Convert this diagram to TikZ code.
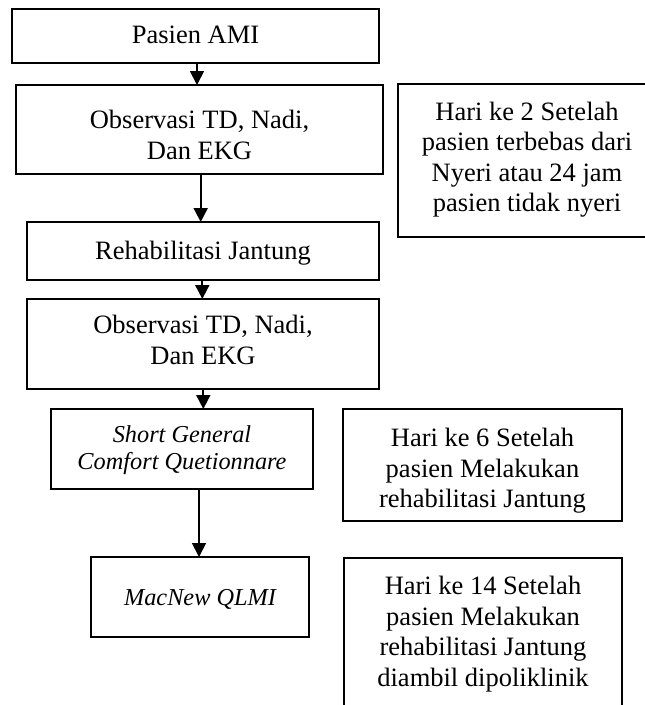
\documentclass[tikz,border=0pt]{standalone}
\usepackage{fontspec}
\setmainfont{Liberation Serif}
\usetikzlibrary{arrows.meta}
\begin{document}
\begin{tikzpicture}[x=1pt,y=-1pt,
  box/.style={draw, line width=1.8pt, inner sep=0pt, outer sep=0pt},
  txt/.style={inner sep=0pt, outer sep=0pt, anchor=center, align=center,
              font=\fontsize{26.5}{30.5}\selectfont},
  itxt/.style={inner sep=0pt, outer sep=0pt, anchor=center, align=center,
              font=\fontsize{24.3}{27}\selectfont\itshape},
  arr/.style={line width=1.8pt, -{Triangle[length=14pt,width=14pt]}}]
\clip (0,0) rectangle (645,705);
% left column boxes
\node[box, minimum width=367pt, minimum height=54pt] (b1) at (195.5,36) {};
\node[box, minimum width=367pt, minimum height=89pt] (b2) at (199.5,129.5) {};
\node[box, minimum width=352pt, minimum height=58pt] (b3) at (203,251) {};
\node[box, minimum width=352pt, minimum height=90pt] (b4) at (203,344) {};
\node[box, minimum width=262pt, minimum height=80pt] (b5) at (182,449) {};
\node[box, minimum width=218pt, minimum height=80pt] (b6) at (200,597) {};
% right column boxes
\node[box, minimum width=258pt, minimum height=153pt] (r1) at (527,160.5) {};
\node[box, minimum width=279pt, minimum height=112pt] (r2) at (482.5,465) {};
\node[box, minimum width=278pt, minimum height=172pt] (r3) at (483,644) {};
% texts
\node[txt] (t1) at (195.5,35) {Pasien AMI};
\node[txt] (t2) at (199.5,135) {Observasi TD, Nadi,\\Dan EKG};
\node[txt] (t3) at (203,252.8) {Rehabilitasi Jantung};
\node[txt] (t4) at (203,340) {Observasi TD, Nadi,\\Dan EKG};
\node[itxt] (t5) at (182,450) {Short General\\Comfort Quetionnare};
\node[itxt] (t6) at (200,599.2) {MacNew QLMI};
\node[txt] (tr1) at (527,159.8) {Hari ke 2 Setelah\\pasien terbebas dari\\Nyeri atau 24 jam\\pasien tidak nyeri};
\node[txt] (tr2) at (482.5,470.8) {Hari ke 6 Setelah\\pasien Melakukan\\rehabilitasi Jantung};
\node[txt] (tr3) at (483,634.3) {Hari ke 14 Setelah\\pasien Melakukan\\rehabilitasi Jantung\\diambil dipoliklinik};
% arrows
\draw[arr] ([xshift=1.5pt]b1.south) -- ([xshift=1.5pt]b1.south |- b2.north);
\draw[arr] ([xshift=1.2pt]b2.south) -- ([xshift=1.2pt]b2.south |- b3.north);
\draw[arr] ([xshift=-0.7pt]b3.south) -- ([xshift=-0.7pt]b3.south |- b4.north);
\draw[arr] ([xshift=0.3pt]b4.south) -- ([xshift=0.3pt]b4.south |- b5.north);
\draw[arr] ([xshift=17pt]b5.south) -- ([xshift=17pt]b5.south |- b6.north);
\end{tikzpicture}
\end{document}
